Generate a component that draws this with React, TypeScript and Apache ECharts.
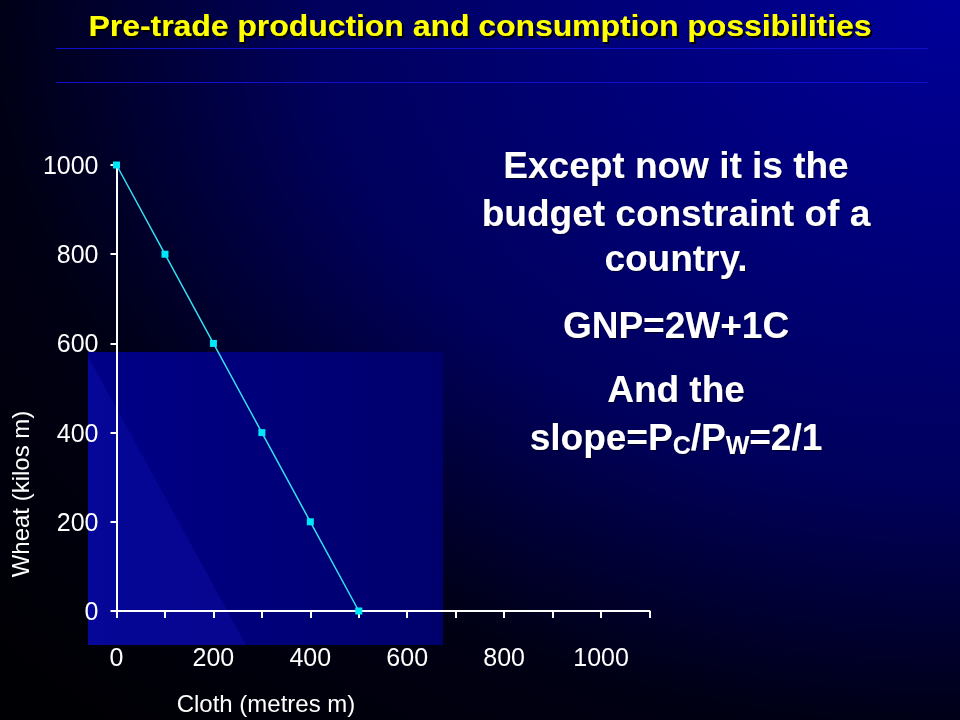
import React, { useEffect, useRef } from "react";
import * as echarts from "echarts";

const cloth = [0, 100, 200, 300, 400, 500];
const wheat = [1000, 800, 600, 400, 200, 0];
const xTickLabels = [0, 200, 400, 600, 800, 1000];
const yTickLabels = [0, 200, 400, 600, 800, 1000];

const title = "Pre-trade production and consumption possibilities";
const noteLines = ["Except now it is the", "budget constraint of a", "country."];
const gnpLine = "GNP=2W+1C";
const andLine = "And the";

export default function App() {
  const ref = useRef<HTMLDivElement>(null);
  useEffect(() => {
    if (!ref.current) return;
    const chart = echarts.init(ref.current, null, { renderer: "svg" });
    const sans = "'Liberation Sans', Arial, sans-serif";
    const noteStyle = {
      fill: "#ffffff",
      font: `bold 37px ${sans}`,
      textAlign: "center",
      textVerticalAlign: "middle",
      textShadowColor: "rgba(0,0,0,0.6)",
      textShadowOffsetX: 1,
      textShadowOffsetY: 1,
      textShadowBlur: 1,
    };
    const noteY = [165, 213, 258];
    chart.setOption({
      animation: false,
      backgroundColor: new echarts.graphic.RadialGradient(1, 0, 1.35, [
        { offset: 0, color: "#00009a" },
        { offset: 0.5, color: "#00005c" },
        { offset: 0.63, color: "#000036" },
        { offset: 0.75, color: "#000014" },
        { offset: 1, color: "#000004" },
      ]),
      graphic: [
        {
          type: "rect",
          z: -10,
          shape: { x: 88, y: 352, width: 355, height: 293 },
          style: {
            fill: new echarts.graphic.LinearGradient(0, 0, 1, 0, [
              { offset: 0, color: "#000088" },
              { offset: 1, color: "#00006c" },
            ]),
          },
        },
        {
          type: "polygon",
          z: -9,
          shape: { points: [[88, 356], [88, 645], [246, 645]] },
          style: { fill: "rgba(20,20,190,0.3)" },
        },
        {
          type: "rect",
          shape: { x: 56, y: 48, width: 872, height: 1 },
          style: { fill: "#1010cc" },
        },
        {
          type: "rect",
          shape: { x: 56, y: 82, width: 872, height: 1 },
          style: { fill: "#1010cc" },
        },
        {
          type: "text",
          x: 480,
          y: 26,
          scaleX: 1.1,
          style: {
            text: title,
            fill: "#ffff00",
            font: `bold 29px ${sans}`,
            textAlign: "center",
            textVerticalAlign: "middle",
            textShadowColor: "#000000",
            textShadowOffsetX: 2,
            textShadowOffsetY: 2,
            textShadowBlur: 1,
          },
        },
        ...noteLines.map((t, i) => ({
          type: "text",
          x: 676,
          y: noteY[i],
          style: { ...noteStyle, text: t },
        })),
        {
          type: "text",
          x: 676,
          y: 325,
          style: { ...noteStyle, text: gnpLine },
        },
        {
          type: "text",
          x: 676,
          y: 389,
          style: { ...noteStyle, text: andLine },
        },
        {
          type: "text",
          x: 676,
          y: 437,
          style: {
            ...noteStyle,
            text: "{m|slope=P}{s|C}{m|/P}{s|W}{m|=2/1}",
            rich: {
              m: { fill: "#ffffff", font: `bold 37px ${sans}`, verticalAlign: "bottom", height: 40 },
              s: { fill: "#ffffff", font: `bold 25px ${sans}`, verticalAlign: "bottom", height: 40, padding: [0, 0, -8, 0] },
            },
          },
        },
      ],
      grid: { left: 116, right: 310.5, top: 165, bottom: 106, containLabel: false },
      xAxis: {
        type: "value",
        min: 0,
        max: 1100,
        interval: 100,
        name: "Cloth (metres m)",
        nameLocation: "middle",
        nameGap: 80,
        nameTextStyle: { color: "#ffffff", fontSize: 24, fontFamily: sans, padding: [0, 234, 0, 0] },
        axisLine: { show: true, lineStyle: { color: "#ffffff", width: 2 } },
        axisTick: { show: true, length: 7, lineStyle: { color: "#ffffff", width: 2 } },
        splitLine: { show: false },
        axisLabel: {
          color: "#ffffff",
          fontSize: 25,
          fontFamily: sans,
          margin: 33,
          showMaxLabel: true,
          textShadowColor: "rgba(0,0,0,0.8)",
          textShadowOffsetX: 1,
          textShadowOffsetY: 1,
          formatter: (v: number) => (xTickLabels.includes(v) ? String(v) : ""),
        },
      },
      yAxis: {
        type: "value",
        min: 0,
        max: 1000,
        interval: 200,
        name: "Wheat (kilos m)",
        nameLocation: "middle",
        nameRotate: 90,
        nameGap: 84,
        nameTextStyle: { color: "#ffffff", fontSize: 24, fontFamily: sans, padding: [0, 212, 0, 0] },
        axisLine: { show: true, lineStyle: { color: "#ffffff", width: 2 } },
        axisTick: { show: true, length: 6, lineStyle: { color: "#ffffff", width: 2 } },
        splitLine: { show: false },
        axisLabel: {
          color: "#ffffff",
          fontSize: 25,
          fontFamily: sans,
          margin: 18,
          textShadowColor: "rgba(0,0,0,0.8)",
          textShadowOffsetX: 1,
          textShadowOffsetY: 1,
          formatter: (v: number) => (yTickLabels.includes(v) ? String(v) : ""),
        },
      },
      series: [
        {
          type: "line",
          data: cloth.map((c, i) => [c, wheat[i]]),
          symbol: "rect",
          symbolSize: 7,
          lineStyle: { color: "#33e0f0", width: 1.5 },
          itemStyle: { color: "#00e8f8" },
          z: 5,
        },
      ],
    });
    return () => chart.dispose();
  }, []);
  return (
    <div
      ref={ref}
      style={{ position: "fixed", left: 0, top: 0, width: 960, height: 720 }}
    />
  );
}
